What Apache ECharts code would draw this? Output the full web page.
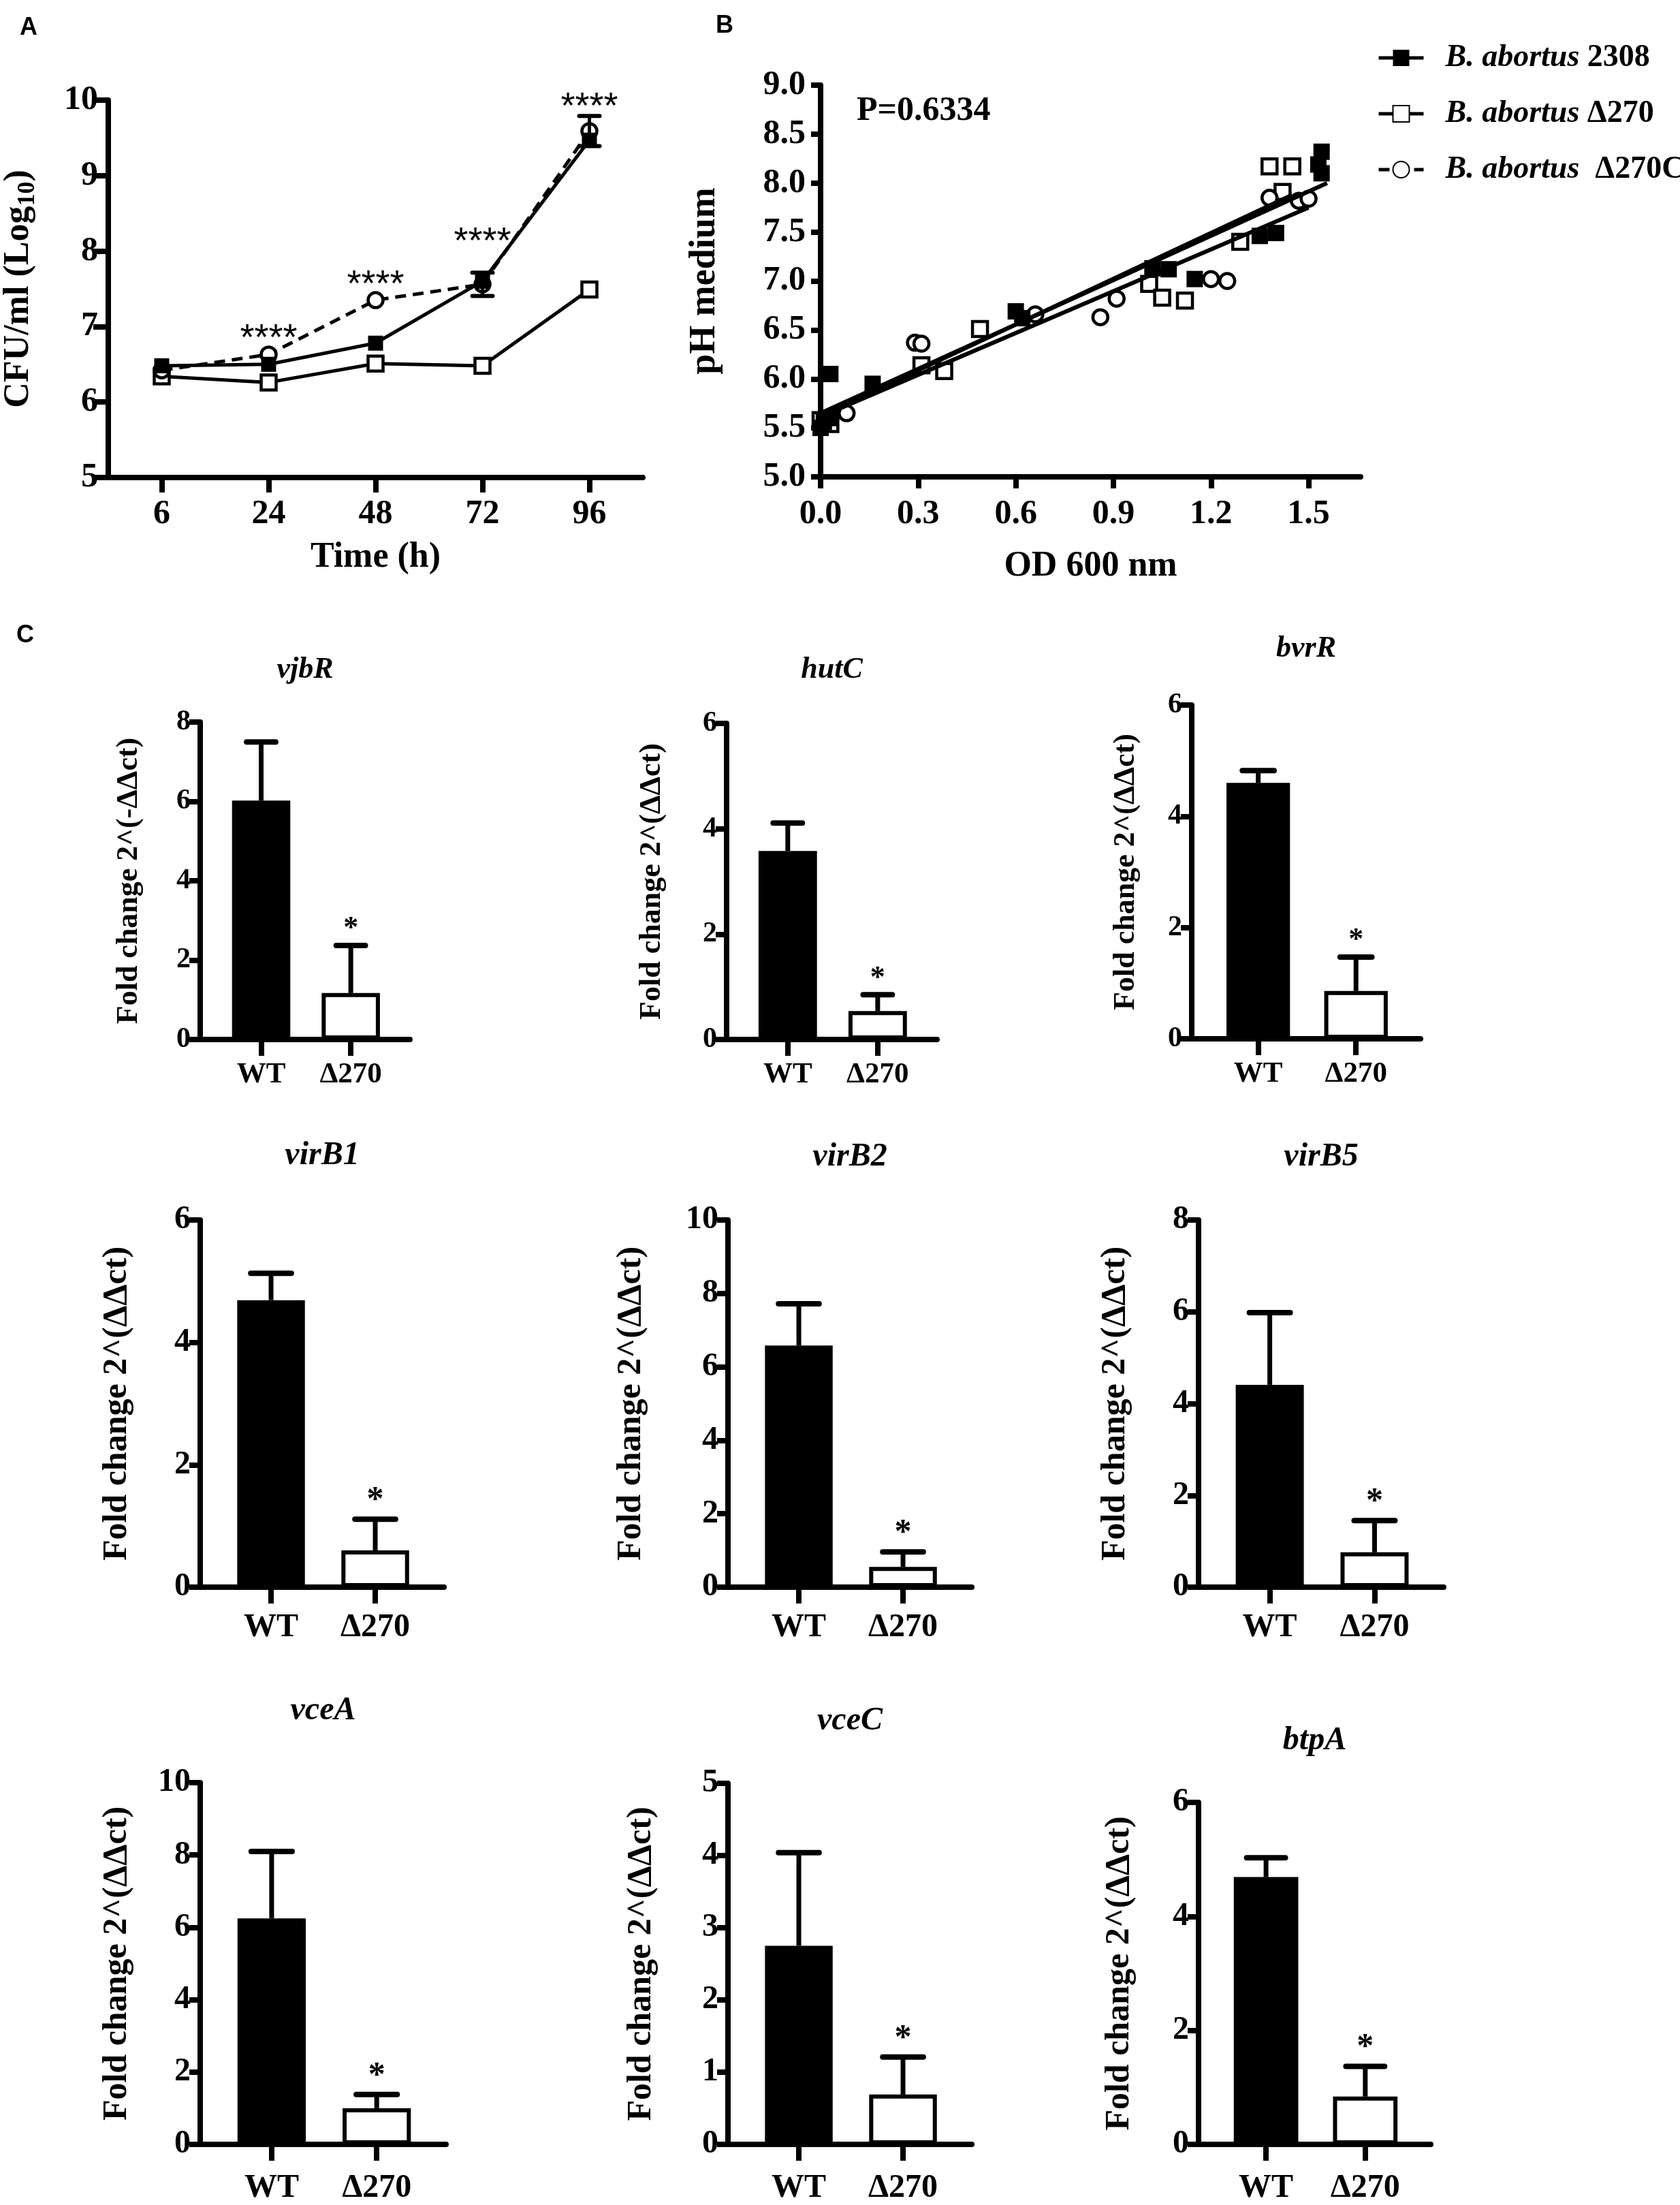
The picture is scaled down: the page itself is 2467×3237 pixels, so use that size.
<!DOCTYPE html>
<html>
<head>
<meta charset="utf-8">
<script src="https://cdn.jsdelivr.net/npm/echarts@6/dist/echarts.min.js"></script>
<style>
  html, body { margin: 0; padding: 0; background: #fff; }
  #chart { width: 2467px; height: 3237px; }
</style>
</head>
<body>
<div id="chart"></div>
<script>
// ---- panel A : growth curve ----
const timePoints = ['6', '24', '48', '72', '96'];
const cfu2308 = [6.48, 6.50, 6.78, 7.60, 9.47];
const cfuD270 = [6.34, 6.26, 6.51, 6.48, 7.49];
const cfuD270C = [6.42, 6.63, 7.35, 7.56, 9.59];
const errD270C = [0, 0, 0, 0.155, 0.20];
const starLevelA = [null, 6.95, 7.66, 8.23, 10.02];

// ---- panel B : pH vs OD600 ----
const ph2308 = [[0, 5.50], [0.01, 5.56], [0.03, 5.60], [0.03, 6.05], [0.16, 5.95], [0.60, 6.69],
  [0.62, 6.62], [1.02, 7.13], [1.07, 7.12], [1.15, 7.02], [1.35, 7.46], [1.40, 7.49],
  [1.53, 8.19], [1.54, 8.32], [1.54, 8.10]];
const phD270 = [[0, 5.58], [0.03, 5.54], [0.31, 6.14], [0.38, 6.08], [0.49, 6.51], [1.01, 6.97],
  [1.05, 6.83], [1.12, 6.80], [1.29, 7.40], [1.38, 8.17], [1.42, 7.91], [1.45, 8.17]];
const phD270C = [[0.07, 5.67], [0.08, 5.65], [0.29, 6.37], [0.31, 6.36], [0.66, 6.66], [0.86, 6.63],
  [0.91, 6.82], [1.20, 7.02], [1.25, 7.00], [1.38, 7.85], [1.47, 7.82], [1.50, 7.84]];
const fit2308 = [[0, 5.65], [1.557, 8.0]];
const fitD270 = [[0, 5.62], [1.45, 7.88]];
const fitD270C = [[0.06, 5.70], [1.50, 7.75]];
const odTicks = [0, 0.3, 0.6, 0.9, 1.2, 1.5];
const strains = ['B. abortus 2308', 'B. abortus Δ270', 'B. abortus  Δ270C'];

// ---- panel C : qPCR fold change ----
const genes = ['vjbR', 'hutC', 'bvrR', 'virB1', 'virB2', 'virB5', 'vceA', 'vceC', 'btpA'];
const groups = ['WT', 'Δ270'];
const wtMean = [6.02, 3.58, 4.60, 4.69, 6.58, 4.41, 6.25, 2.75, 4.69];
const wtErr = [1.48, 0.53, 0.22, 0.44, 1.14, 1.57, 1.85, 1.29, 0.34];
const koMean = [1.17, 0.54, 0.86, 0.60, 0.55, 0.76, 1.00, 0.69, 0.84];
const koErr = [1.20, 0.31, 0.61, 0.51, 0.41, 0.69, 0.38, 0.52, 0.53];
const koStar = ['*', '*', '*', '*', '*', '*', '*', '*', '*'];
const yMax = [8, 6, 6, 6, 10, 8, 10, 5, 6];
const yStep = [2, 2, 2, 2, 2, 2, 2, 1, 2];
const yTitle = ['Fold change 2^(-ΔΔct)', 'Fold change 2^(ΔΔct)', 'Fold change 2^(ΔΔct)',
  'Fold change 2^(ΔΔct)', 'Fold change 2^(ΔΔct)', 'Fold change 2^(ΔΔct)',
  'Fold change 2^(ΔΔct)', 'Fold change 2^(ΔΔct)', 'Fold change 2^(ΔΔct)'];

// layout (pixels)
const cGrid = [[294, 1060, 308, 466], [1067, 1062, 309, 464], [1750, 1035, 336, 490],
  [294, 1791, 358, 539], [1069, 1791, 358, 539], [1760, 1791, 360, 539],
  [294, 2617, 361, 541], [1069, 2618, 358, 540], [1760, 2646, 341, 512]];
const cTitleY = [984, 984, 953, 1697, 1699, 1699, 2512, 2527, 2556];
const cNameGap = [82, 87, 74, 97, 117, 97, 97, 102, 91];
const rowTick = [42, 48, 48], rowName = [44, 50, 50], rowCat = [43, 48, 48];
const rowTitle = [44, 48, 48], rowCatMargin = [30, 36, 41], rowCap = [0.5, 0.6, 0.6];

const SERIF = '"Liberation Serif", "Times New Roman", serif';
const SANS = '"Liberation Sans", Arial, sans-serif';

function axisBase(fontSize, tickLen, margin) {
  return {
    axisLine: { show: true, onZero: false, lineStyle: { color: '#000', width: 8 } },
    axisTick: { show: true, length: tickLen, lineStyle: { color: '#000', width: 8 } },
    axisLabel: { color: '#000', fontFamily: SERIF, fontWeight: 'bold', fontSize: fontSize, margin: margin },
    splitLine: { show: false },
    nameTextStyle: { color: '#000', fontFamily: SERIF, fontWeight: 'bold' }
  };
}

var myChart = echarts.init(document.getElementById('chart'));

const grids = [];
const xAxes = [];
const yAxes = [];
const series = [];
const texts = [];

// ---------- A ----------
grids.push({ left: 159, top: 147, width: 785, height: 554 });
xAxes.push(Object.assign(axisBase(50, 22, 29), {
  type: 'category', gridIndex: 0, data: timePoints, boundaryGap: true,
  name: 'Time (h)', nameLocation: 'middle', nameGap: 92
}));
xAxes[0].axisTick.alignWithLabel = true;
xAxes[0].nameTextStyle.fontSize = 52;
yAxes.push(Object.assign(axisBase(50, 22, 15), {
  type: 'value', gridIndex: 0, min: 5, max: 10, interval: 1,
  name: 'CFU/ml (Log{sub|10})', nameLocation: 'middle', nameGap: 100
}));
yAxes[0].nameTextStyle.fontSize = 52;
yAxes[0].nameTextStyle.rich = {
  sub: { fontFamily: SERIF, fontWeight: 'bold', fontSize: 36, color: '#000', padding: [26, 0, 0, 0] }
};

series.push({
  name: strains[1], type: 'line', xAxisIndex: 0, yAxisIndex: 0, data: cfuD270,
  symbol: 'rect', symbolSize: 22,
  itemStyle: { color: '#fff', borderColor: '#000', borderWidth: 4.5 },
  lineStyle: { color: '#000', width: 5 }
});
series.push({
  name: strains[2], type: 'line', xAxisIndex: 0, yAxisIndex: 0, data: cfuD270C,
  symbol: 'circle', symbolSize: 22,
  itemStyle: { color: '#fff', borderColor: '#000', borderWidth: 4.5 },
  lineStyle: { color: '#000', width: 5, type: [16, 10] }
});
series.push({
  name: strains[0], type: 'line', xAxisIndex: 0, yAxisIndex: 0, data: cfu2308,
  symbol: 'rect', symbolSize: 22,
  itemStyle: { color: '#000', borderColor: '#000', borderWidth: 0 },
  lineStyle: { color: '#000', width: 5 }
});
// error bars of the complemented strain
series.push({
  type: 'custom', xAxisIndex: 0, yAxisIndex: 0, z: 4,
  data: cfuD270C.map((v, i) => [i, v, errD270C[i]]).filter(d => d[2] > 0),
  renderItem: function (params, api) {
    const lo = api.coord([api.value(0), api.value(1) - api.value(2)]);
    const hi = api.coord([api.value(0), api.value(1) + api.value(2)]);
    const cw = 15;
    return {
      type: 'group', children: [
        { type: 'line', shape: { x1: lo[0], y1: lo[1], x2: hi[0], y2: hi[1] }, style: { stroke: '#000', lineWidth: 5 } },
        { type: 'line', shape: { x1: hi[0] - cw, y1: hi[1], x2: hi[0] + cw, y2: hi[1] }, style: { stroke: '#000', lineWidth: 6, lineCap: 'round' } },
        { type: 'line', shape: { x1: lo[0] - cw, y1: lo[1], x2: lo[0] + cw, y2: lo[1] }, style: { stroke: '#000', lineWidth: 6, lineCap: 'round' } }
      ]
    };
  }
});
// significance stars
series.push({
  type: 'custom', xAxisIndex: 0, yAxisIndex: 0, z: 4,
  data: starLevelA.map((v, i) => [i, v]).filter(d => d[1] !== null),
  renderItem: function (params, api) {
    const p = api.coord([api.value(0), api.value(1)]);
    return {
      type: 'text',
      style: { text: '****', x: p[0], y: p[1] + 13, textAlign: 'center', textVerticalAlign: 'middle',
        fill: '#000', font: '54px ' + SANS }
    };
  }
});

// ---------- B ----------
grids.push({ left: 1205, top: 125, width: 793, height: 575 });
xAxes.push(Object.assign(axisBase(50, 17, 30), {
  type: 'value', gridIndex: 1, min: 0, max: 1.66,
  name: 'OD 600 nm', nameLocation: 'middle', nameGap: 106
}));
xAxes[1].axisLabel.customValues = odTicks;
xAxes[1].axisLabel.formatter = v => v.toFixed(1);
xAxes[1].axisTick.customValues = odTicks;
xAxes[1].nameTextStyle.fontSize = 52;
yAxes.push(Object.assign(axisBase(50, 14, 22), {
  type: 'value', gridIndex: 1, min: 5, max: 9, interval: 0.5,
  name: 'pH medium', nameLocation: 'middle', nameGap: 143
}));
yAxes[1].axisLabel.formatter = v => v.toFixed(1);
yAxes[1].nameTextStyle.fontSize = 54;

series.push({
  name: strains[1], type: 'scatter', xAxisIndex: 1, yAxisIndex: 1, data: phD270,
  symbol: 'rect', symbolSize: 22,
  itemStyle: { color: '#fff', borderColor: '#000', borderWidth: 4.5, opacity: 1 }
});
series.push({
  name: strains[2], type: 'scatter', xAxisIndex: 1, yAxisIndex: 1, data: phD270C,
  symbol: 'circle', symbolSize: 22,
  itemStyle: { color: '#fff', borderColor: '#000', borderWidth: 4.5, opacity: 1 }
});
series.push({
  name: strains[0], type: 'scatter', xAxisIndex: 1, yAxisIndex: 1, data: ph2308,
  symbol: 'rect', symbolSize: 24,
  itemStyle: { color: '#000', opacity: 1 }
});
[fitD270C, fitD270, fit2308].forEach(function (fit) {
  series.push({
    type: 'line', xAxisIndex: 1, yAxisIndex: 1, data: fit, symbol: 'none',
    lineStyle: { color: '#000', width: 6 }, z: 3
  });
});

// ---------- C ----------
genes.forEach(function (gene, i) {
  const row = Math.floor(i / 3);
  const g = cGrid[i];
  const gi = 2 + i;
  grids.push({ left: g[0], top: g[1], width: g[2], height: g[3] });

  const xa = Object.assign(axisBase(rowCat[row], 24, rowCatMargin[row]), {
    type: 'value', gridIndex: gi, min: 0.32, max: 2.66
  });
  xa.axisLabel.customValues = [1, 2];
  xa.axisLabel.formatter = v => groups[Math.round(v) - 1];
  xa.axisTick.customValues = [1, 2];
  xAxes.push(xa);

  const ya = Object.assign(axisBase(rowTick[row], 16, 14), {
    type: 'value', gridIndex: gi, min: 0, max: yMax[i], interval: yStep[i],
    name: yTitle[i], nameLocation: 'middle', nameGap: cNameGap[i]
  });
  ya.nameTextStyle.fontSize = rowName[row];
  yAxes.push(ya);

  const band = g[2] / (2.66 - 0.32);
  const barW = band * 0.65;
  const capW = barW * rowCap[row];

  series.push({
    type: 'bar', xAxisIndex: gi, yAxisIndex: gi, barWidth: barW,
    data: [
      { value: [1, wtMean[i]], itemStyle: { color: '#000' } },
      { value: [2, koMean[i]], itemStyle: { color: '#fff', borderColor: '#000', borderWidth: 6 } }
    ]
  });
  series.push({
    type: 'custom', xAxisIndex: gi, yAxisIndex: gi, z: 4,
    data: [[1, wtMean[i], wtErr[i]], [2, koMean[i], koErr[i]]],
    renderItem: function (params, api) {
      const x = api.value(0), m = api.value(1), e = api.value(2);
      const base = api.coord([x, m]);
      const top = api.coord([x, m + e]);
      const kids = [
        { type: 'line', shape: { x1: base[0], y1: base[1], x2: top[0], y2: top[1] }, style: { stroke: '#000', lineWidth: 7 } },
        { type: 'line', shape: { x1: top[0] - capW / 2, y1: top[1], x2: top[0] + capW / 2, y2: top[1] }, style: { stroke: '#000', lineWidth: 8, lineCap: 'round' } }
      ];
      const star = params.dataIndex === 1 ? koStar[i] : '';
      if (star) {
        kids.push({
          type: 'text',
          style: { text: star, x: top[0], y: top[1] - 2, textAlign: 'center', textVerticalAlign: 'bottom',
            fill: '#000', font: 'bold ' + (rowTick[row] + 2) + 'px ' + SERIF }
        });
      }
      return { type: 'group', children: kids };
    }
  });

  texts.push({
    type: 'text',
    style: { text: gene, x: g[0] + g[2] / 2, y: cTitleY[i], textAlign: 'center', textVerticalAlign: 'middle',
      fill: '#000', font: 'italic bold ' + rowTitle[row] + 'px ' + SERIF }
  });
});

// panel letters and annotation
texts.push({ type: 'text', style: { text: 'A', x: 29, y: 41, textVerticalAlign: 'middle', fill: '#000', font: 'bold 36px ' + SANS } });
texts.push({ type: 'text', style: { text: 'B', x: 1051, y: 38, textVerticalAlign: 'middle', fill: '#000', font: 'bold 36px ' + SANS } });
texts.push({ type: 'text', style: { text: 'C', x: 24, y: 933, textVerticalAlign: 'middle', fill: '#000', font: 'bold 36px ' + SANS } });
texts.push({ type: 'text', style: { text: 'P=0.6334', x: 1258, y: 163, textVerticalAlign: 'middle', fill: '#000', font: 'bold 50px ' + SERIF } });

var option = {
  animation: false,
  backgroundColor: '#fff',
  grid: grids,
  xAxis: xAxes,
  yAxis: yAxes,
  legend: {
    data: strains, orient: 'vertical', left: 2017, top: 57,
    itemWidth: 66, itemHeight: 30, itemGap: 36, selectedMode: false,
    lineStyle: { width: 5, color: '#000' },
    textStyle: {
      color: '#000', fontFamily: SERIF, fontWeight: 'bold', fontSize: 46, padding: [0, 0, 0, 27],
      rich: {
        i: { fontFamily: SERIF, fontStyle: 'italic', fontWeight: 'bold', fontSize: 46, color: '#000' },
        b: { fontFamily: SERIF, fontWeight: 'bold', fontSize: 46, color: '#000' }
      }
    },
    formatter: function (name) {
      return '{i|B. abortus}{b|' + name.split('abortus')[1] + '}';
    }
  },
  graphic: { elements: texts },
  series: series
};

option && myChart.setOption(option);
</script>
</body>
</html>
